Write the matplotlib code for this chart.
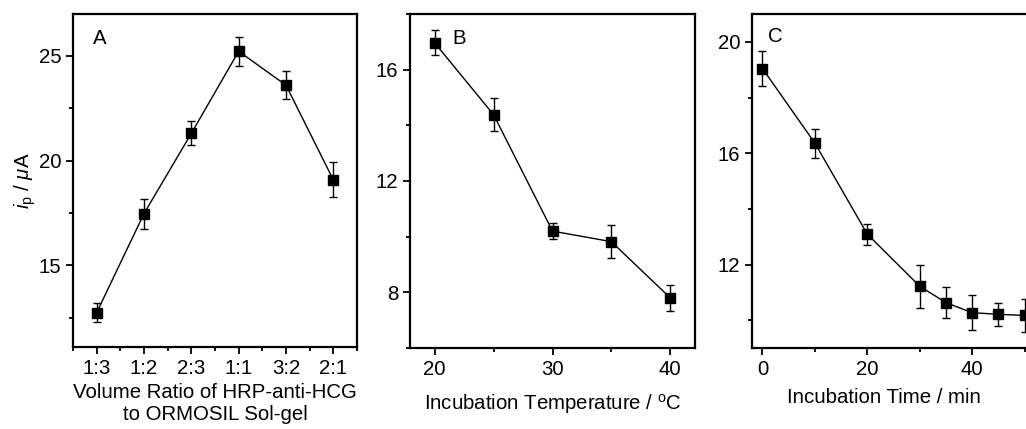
import numpy as np
import matplotlib
matplotlib.use('Agg')
from matplotlib import pyplot as plt
from matplotlib.ticker import MultipleLocator, FixedLocator

# panel A: volume ratio
ratio_labels = ['1:3', '1:2', '2:3', '1:1', '3:2', '2:1']
ratio_ip = [12.74, 17.47, 21.30, 25.22, 23.60, 19.08]
ratio_err = [0.45, 0.72, 0.57, 0.68, 0.67, 0.84]

# panel B: incubation temperature
temp_c = [20, 25, 30, 35, 40]
temp_ip = [16.96, 14.38, 10.20, 9.82, 7.80]
temp_err = [0.45, 0.60, 0.30, 0.60, 0.48]

# panel C: incubation time
time_min = [0, 10, 20, 30, 35, 40, 45, 50]
time_ip = [19.04, 16.36, 13.09, 11.22, 10.63, 10.27, 10.21, 10.17]
time_err = [0.63, 0.52, 0.38, 0.78, 0.55, 0.63, 0.42, 0.58]

plt.rcParams['font.family'] = ['Liberation Sans', 'DejaVu Sans']
plt.rcParams['font.size'] = 14.7
plt.rcParams['mathtext.fontset'] = 'custom'
plt.rcParams['mathtext.rm'] = 'Liberation Sans'
plt.rcParams['mathtext.it'] = 'Liberation Sans:italic'

W, H = 1026, 429
fig = plt.figure(figsize=(W / 100, H / 100), dpi=100)


def px_axes(x0, x1, y0, y1):
    return fig.add_axes([x0 / W, 1 - y1 / H, (x1 - x0) / W, (y1 - y0) / H])


def style(ax):
    for s in ax.spines.values():
        s.set_linewidth(1.6)
    ax.tick_params(which='both', direction='out', width=1.3, top=False, right=False)
    ax.tick_params(which='major', length=5, pad=3.5)
    ax.tick_params(which='minor', length=3)


def draw(ax, x, y, e):
    ax.errorbar(x, y, yerr=e, color='black', lw=1.0, marker='s', ms=7,
                capsize=3, elinewidth=1.0, capthick=1.0, clip_on=False, zorder=3)


axA = px_axes(73, 357, 14, 347)
pos = np.arange(1, len(ratio_labels) + 1)
draw(axA, pos, ratio_ip, ratio_err)
axA.set_xlim(0.5, 6.5)
axA.set_ylim(11.1, 27.0)
axA.set_xticks(pos)
axA.set_xticklabels(ratio_labels)
axA.xaxis.set_minor_locator(FixedLocator(np.arange(0.5, 7, 1)))
axA.yaxis.set_major_locator(MultipleLocator(5))
axA.yaxis.set_minor_locator(MultipleLocator(2.5))
axA.set_xlabel('Volume Ratio of HRP-anti-HCG\nto ORMOSIL Sol-gel', linespacing=1.2)
axA.xaxis.set_label_coords(0.5, -0.107)
axA.xaxis.label.set_va('top')
axA.set_ylabel(r'$i_{\rm p}$ / $\mu$A')
axA.yaxis.set_label_coords(-0.125, 0.5)
axA.text(0.07, 0.955, 'A', transform=axA.transAxes, va='top', ha='left')
style(axA)

axB = px_axes(410, 695, 14, 348)
draw(axB, temp_c, temp_ip, temp_err)
axB.set_xlim(17.9, 42.1)
axB.set_ylim(6.0, 18.0)
axB.xaxis.set_major_locator(MultipleLocator(10))
axB.xaxis.set_minor_locator(MultipleLocator(5))
axB.yaxis.set_major_locator(MultipleLocator(4))
axB.yaxis.set_minor_locator(MultipleLocator(2))
axB.set_xlabel(r'Incubation Temperature / $^{\rm o}$C')
axB.xaxis.set_label_coords(0.5, -0.186)
axB.xaxis.label.set_va('baseline')
axB.text(0.147, 0.955, 'B', transform=axB.transAxes, va='top', ha='left')
style(axB)

axC = px_axes(752, 1035, 14, 348)
draw(axC, time_min, time_ip, time_err)
axC.set_xlim(-2, 52)
axC.set_ylim(9.0, 21.0)
axC.xaxis.set_major_locator(MultipleLocator(20))
axC.xaxis.set_minor_locator(MultipleLocator(10))
axC.yaxis.set_major_locator(MultipleLocator(4))
axC.yaxis.set_minor_locator(MultipleLocator(2))
axC.set_xlabel('Incubation Time / min')
axC.xaxis.set_label_coords(0.466, -0.166)
axC.xaxis.label.set_va('baseline')
axC.text(0.057, 0.96, 'C', transform=axC.transAxes, va='top', ha='left')
style(axC)

fig.savefig('out.png', dpi=100)
